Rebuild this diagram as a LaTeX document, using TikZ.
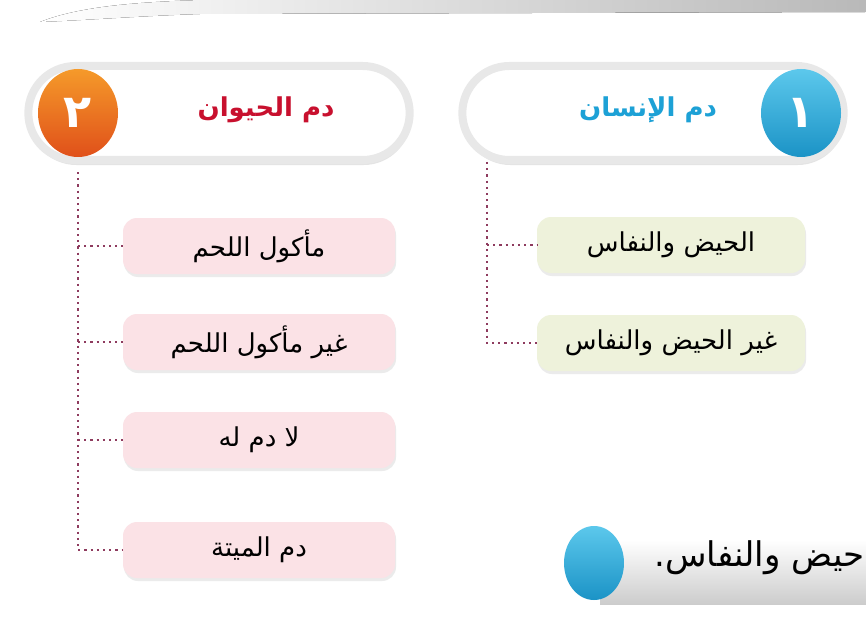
\documentclass[tikz,border=0pt]{standalone}
\usepackage{fontspec}
\usepackage{xcolor}
\usetikzlibrary{shapes.misc,shapes.geometric,positioning,shadows,calc}
\TeXXeTstate=1
\newfontfamily\arabicfont[Script=Arabic]{DejaVu Sans}
\definecolor{inkline}{HTML}{8E3B5E}
\definecolor{animalred}{HTML}{C8102E}
\definecolor{humanblue}{HTML}{1DA1D6}
\definecolor{orangeA}{HTML}{F59A2A}
\definecolor{orangeB}{HTML}{E0501A}
\definecolor{blueA}{HTML}{5CC8EC}
\definecolor{blueB}{HTML}{1B93C6}
\definecolor{pinkbox}{HTML}{FBE2E6}
\definecolor{greenbox}{HTML}{EEF2DB}

\begin{document}
\begin{tikzpicture}[
  x=1pt, y=-1pt,
  every node/.style={font=\arabicfont\fontsize{26}{30}\selectfont},
  header/.style={rounded rectangle, fill=white, draw=gray!18, line width=8pt,
                 minimum width=388pt, minimum height=94pt,
                 drop shadow={shadow xshift=1pt, shadow yshift=-5pt, fill=gray!60, opacity=.35}},
  numdot/.style={ellipse, minimum width=80pt, minimum height=88pt, inner sep=0pt,
                 text=white, font=\arabicfont\bfseries\fontsize{46}{46}\selectfont},
  title/.style={font=\arabicfont\bfseries\fontsize{26}{30}\selectfont},
  itembox/.style={rectangle, rounded corners=14pt, minimum height=56pt, inner sep=0pt,
                  drop shadow={shadow xshift=1pt, shadow yshift=-3pt, fill=gray!50, opacity=.3}},
  animalbox/.style={itembox, fill=pinkbox, minimum width=272pt},
  humanbox/.style={itembox, fill=greenbox, minimum width=268pt},
  dotline/.style={inkline, line width=2.2pt, dash pattern=on 2.2pt off 4pt}
]
\clip (0,0) rectangle (866,639);
\fill[white] (0,0) rectangle (866,639);

% ---- top streak ----
\fill[left color=white, right color=gray!55] (40,22) .. controls (80,6) and (140,2) .. (200,0)
  -- (866,0) -- (866,12) -- (200,14) .. controls (140,16) and (90,20) .. (40,22) -- cycle;

% ---- Headers ----
\node[header] (hdr2) at (219,113) {};
\node[header] (hdr1) at (653,113) {};
\node[numdot, top color=orangeA, bottom color=orangeB] (num2) at (78,113) {\beginR ٢\endR};
\node[numdot, top color=blueA, bottom color=blueB] (num1) at (801,113) {\beginR ١\endR};
\node[title, text=animalred] (t2) at (266,110) {\beginR دم الحيوان\endR};
\node[title, text=humanblue] (t1) at (648,110) {\beginR دم الإنسان\endR};

% ---- Animal blood ----
\node[animalbox] (a1) at (259,246) {\beginR مأكول اللحم\endR};
\node[animalbox] (a2) at (259,342) {\beginR غير مأكول اللحم\endR};
\node[animalbox] (a3) at (259,440) {\beginR لا دم له\endR};
\node[animalbox] (a4) at (259,550) {\beginR دم الميتة\endR};
\coordinate (trunkA) at (78,172);
\draw[dotline] (trunkA) -- (trunkA |- a4.west) -- (a4.west);
\foreach \n in {a1,a2,a3}
  \draw[dotline] (trunkA |- \n.west) -- (\n.west);

% ---- Human blood ----
\node[humanbox] (h1) at (671,245) {\beginR الحيض والنفاس\endR};
\node[humanbox] (h2) at (671,343) {\beginR غير الحيض والنفاس\endR};
\coordinate (trunkH) at (487,162);
\draw[dotline] (trunkH) -- (trunkH |- h2.west) -- (h2.west);
\draw[dotline] (trunkH |- h1.west) -- (h1.west);

% ---- bottom strip ----
\fill[top color=white, bottom color=gray!40] (600,540) rectangle (870,604);
\node[ellipse, minimum width=60pt, minimum height=74pt, inner sep=0pt,
      top color=blueA, bottom color=blueB] (blob) at (594,563) {};
\node[anchor=east, font=\arabicfont\fontsize{34}{38}\selectfont] (note) at (868,558)
  {\beginR حيض والنفاس.\endR};

\end{tikzpicture}
\end{document}
